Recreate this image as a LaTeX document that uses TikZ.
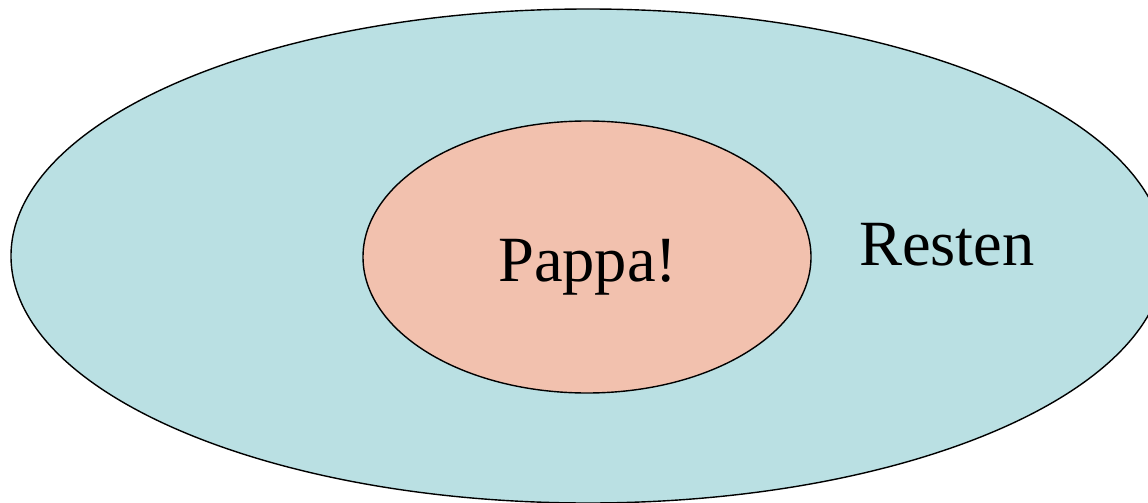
\documentclass[tikz,border=0pt]{standalone}
\usepackage{fontspec}
\setmainfont{Liberation Serif}
\usetikzlibrary{shapes.geometric}
\definecolor{outerfill}{HTML}{BAE0E3}
\definecolor{innerfill}{HTML}{F2C1AE}
\begin{document}
\begin{tikzpicture}[x=1pt,y=-1pt,
  region/.style={ellipse, draw=black, line width=1.4pt, inner sep=0pt},
  lbl/.style={inner sep=0pt, anchor=base west, font=\fontsize{64.5}{70}\selectfont}]
\useasboundingbox (0,0) rectangle (1148,503);
\begin{scope}
\clip (0,0) rectangle (1148,503);
\node[region, fill=outerfill, minimum width=1154pt, minimum height=494pt] (outer) at (588,256) {};
\node[region, fill=innerfill, minimum width=448pt, minimum height=272pt] (inner) at (587,257) {};
\node[lbl] (pappa) at (498,281) {Pappa!};
\node[lbl] (resten) at (859,265) {Resten};
\end{scope}
\end{tikzpicture}
\end{document}
